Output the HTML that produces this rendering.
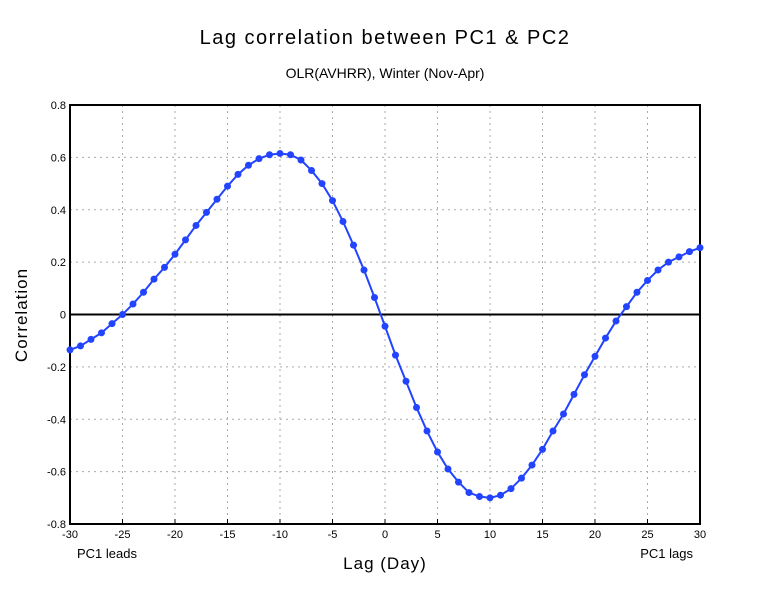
<!DOCTYPE html>
<html><head><meta charset="utf-8"><style>
html,body{margin:0;padding:0;background:#fff;}
svg text{font-family:"Liberation Sans",sans-serif;fill:#000;}
</style></head><body>
<svg width="770" height="595" xmlns="http://www.w3.org/2000/svg" id="chart">
<text x="385" y="44" font-size="20" text-anchor="middle" letter-spacing="1.5">Lag correlation between PC1 &amp; PC2</text>
<text x="385" y="78" font-size="14" text-anchor="middle">OLR(AVHRR), Winter (Nov-Apr)</text>
<text x="27" y="315" font-size="17" text-anchor="middle" transform="rotate(-90 27 315)" letter-spacing="1">Correlation</text>
<text x="385" y="569" font-size="17" text-anchor="middle" letter-spacing="1">Lag (Day)</text>
<text x="77" y="558" font-size="13">PC1 leads</text>
<text x="693" y="558" font-size="13" text-anchor="end">PC1 lags</text>
<g id="grid"></g><g id="axes"></g><g id="series"></g>
</svg>
<script>
const lags=[];for(let i=-30;i<=30;i++)lags.push(i);
const correlation=[-0.135,-0.12,-0.095,-0.07,-0.035,0.0,0.04,0.085,0.135,0.18,0.23,0.285,0.34,0.39,0.44,0.49,0.535,0.57,0.595,0.61,0.615,0.61,0.59,0.55,0.50,0.435,0.355,0.265,0.17,0.065,-0.045,-0.155,-0.255,-0.355,-0.445,-0.525,-0.59,-0.64,-0.68,-0.695,-0.70,-0.69,-0.665,-0.625,-0.575,-0.515,-0.445,-0.38,-0.305,-0.23,-0.16,-0.09,-0.025,0.03,0.085,0.13,0.17,0.2,0.22,0.24,0.255];
const xTicks=[-30,-25,-20,-15,-10,-5,0,5,10,15,20,25,30];
const yTicks=[-0.8,-0.6,-0.4,-0.2,0,0.2,0.4,0.6,0.8];
const yTickLabels=["-0.8","-0.6","-0.4","-0.2","0","0.2","0.4","0.6","0.8"];
const L=70,R=700,T=105,B=524;
const X=v=>L+(v+30)/60*(R-L);
const Y=v=>B-(v+0.8)/1.6*(B-T);
const NS="http://www.w3.org/2000/svg";
function mk(tag,parent,attrs){const e=document.createElementNS(NS,tag);for(const k in attrs)e.setAttribute(k,attrs[k]);parent.appendChild(e);return e;}
const grid=document.getElementById('grid'),axes=document.getElementById('axes'),series=document.getElementById('series');
xTicks.forEach(t=>{
  if(t>-30&&t<30){const g=mk('line',grid,{x1:X(t),x2:X(t),y1:T,y2:B,stroke:'#aaa','stroke-dasharray':'2,4'});
  
  }
  const tx=mk('text',axes,{x:X(t),y:B+14,'font-size':11,'text-anchor':'middle'});tx.textContent=t;
  
  
  mk('line',axes,{x1:X(t),x2:X(t),y1:B,y2:B-5,stroke:'#000'});
});
yTicks.forEach((t,i)=>{
  if(t!==0&&Math.abs(t)<0.8){const g=mk('line',grid,{x1:L,x2:R,y1:Y(t),y2:Y(t),stroke:'#aaa','stroke-dasharray':'2,4'});
  
  }
  const tx=mk('text',axes,{x:L-4,y:Y(t)+4,'font-size':11,'text-anchor':'end'});tx.textContent=yTickLabels[i];
  
  
});
const z=mk('line',axes,{x1:L,x2:R,y1:Y(0),y2:Y(0),stroke:'#000','stroke-width':2});


const fr=mk('rect',axes,{x:L,y:T,width:R-L,height:B-T,fill:'none',stroke:'#000','stroke-width':2});


const pl=mk('polyline',series,{points:lags.map((d,i)=>X(d)+','+Y(correlation[i])).join(' '),fill:'none',stroke:'#2244ff','stroke-width':2});


lags.forEach((d,i)=>{const c=mk('circle',series,{cx:X(d),cy:Y(correlation[i]),r:3.5,fill:'#2244ff'});

});
</script>
</body></html>
